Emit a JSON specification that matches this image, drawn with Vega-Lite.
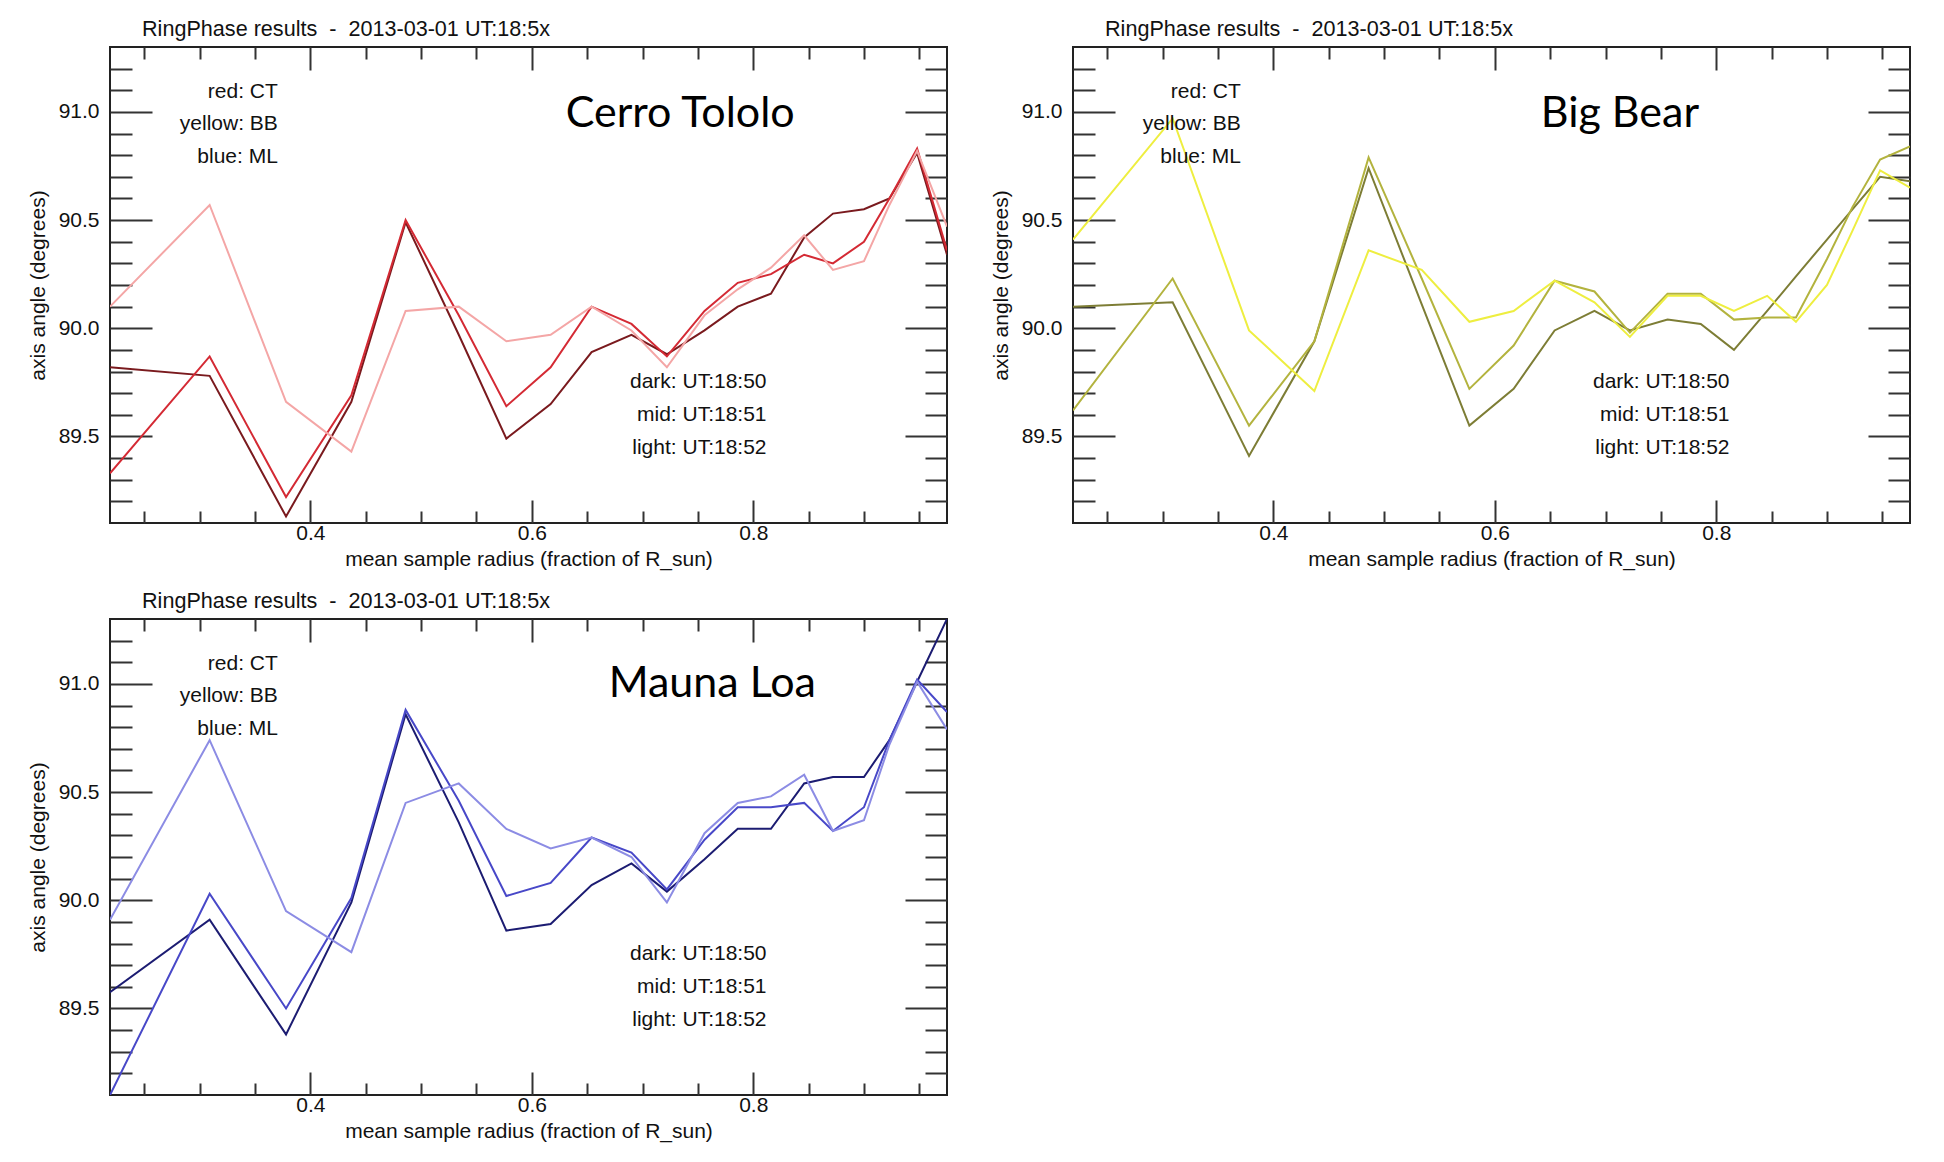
{
  "$schema": "https://vega.github.io/schema/vega-lite/v6.json",
  "background": "white",
  "padding": {"left": 26, "top": 18, "right": 10, "bottom": 10},
  "config": {
    "font": "Liberation Sans",
    "view": {"stroke": "#222", "strokeWidth": 2},
    "axis": {
      "domain": false, "grid": false,
      "tickColor": "#333", "tickWidth": 2,
      "labelFont": "Liberation Sans", "labelFontSize": 21, "labelColor": "#111",
      "labelFlush": false, "labelOverlap": false, "labelBound": false,
      "titleFont": "Liberation Sans", "titleFontSize": 21, "titleFontWeight": "normal", "titleColor": "#111"
    },
    "title": {
      "anchor": "start", "frame": "group", "dx": 32, "offset": 5,
      "font": "Liberation Sans", "fontSize": 21.6, "fontWeight": "normal", "color": "#111"
    }
  },
  "datasets": {
    "rings": [
      {"site": "CT", "time": "18:50", "radius": 0.219, "angle": 89.82},
      {"site": "CT", "time": "18:50", "radius": 0.309, "angle": 89.78},
      {"site": "CT", "time": "18:50", "radius": 0.378, "angle": 89.13},
      {"site": "CT", "time": "18:50", "radius": 0.437, "angle": 89.66},
      {"site": "CT", "time": "18:50", "radius": 0.486, "angle": 90.49},
      {"site": "CT", "time": "18:50", "radius": 0.534, "angle": 89.97},
      {"site": "CT", "time": "18:50", "radius": 0.577, "angle": 89.49},
      {"site": "CT", "time": "18:50", "radius": 0.617, "angle": 89.65},
      {"site": "CT", "time": "18:50", "radius": 0.654, "angle": 89.89},
      {"site": "CT", "time": "18:50", "radius": 0.690, "angle": 89.97},
      {"site": "CT", "time": "18:50", "radius": 0.722, "angle": 89.88},
      {"site": "CT", "time": "18:50", "radius": 0.756, "angle": 89.99},
      {"site": "CT", "time": "18:50", "radius": 0.786, "angle": 90.10},
      {"site": "CT", "time": "18:50", "radius": 0.816, "angle": 90.16},
      {"site": "CT", "time": "18:50", "radius": 0.846, "angle": 90.42},
      {"site": "CT", "time": "18:50", "radius": 0.872, "angle": 90.53},
      {"site": "CT", "time": "18:50", "radius": 0.900, "angle": 90.55},
      {"site": "CT", "time": "18:50", "radius": 0.923, "angle": 90.60},
      {"site": "CT", "time": "18:50", "radius": 0.948, "angle": 90.81},
      {"site": "CT", "time": "18:50", "radius": 0.975, "angle": 90.34},
      {"site": "CT", "time": "18:51", "radius": 0.219, "angle": 89.33},
      {"site": "CT", "time": "18:51", "radius": 0.309, "angle": 89.87},
      {"site": "CT", "time": "18:51", "radius": 0.378, "angle": 89.22},
      {"site": "CT", "time": "18:51", "radius": 0.437, "angle": 89.69},
      {"site": "CT", "time": "18:51", "radius": 0.486, "angle": 90.50},
      {"site": "CT", "time": "18:51", "radius": 0.534, "angle": 90.06},
      {"site": "CT", "time": "18:51", "radius": 0.577, "angle": 89.64},
      {"site": "CT", "time": "18:51", "radius": 0.617, "angle": 89.82},
      {"site": "CT", "time": "18:51", "radius": 0.654, "angle": 90.10},
      {"site": "CT", "time": "18:51", "radius": 0.690, "angle": 90.02},
      {"site": "CT", "time": "18:51", "radius": 0.722, "angle": 89.87},
      {"site": "CT", "time": "18:51", "radius": 0.756, "angle": 90.08},
      {"site": "CT", "time": "18:51", "radius": 0.786, "angle": 90.21},
      {"site": "CT", "time": "18:51", "radius": 0.816, "angle": 90.25},
      {"site": "CT", "time": "18:51", "radius": 0.846, "angle": 90.34},
      {"site": "CT", "time": "18:51", "radius": 0.872, "angle": 90.30},
      {"site": "CT", "time": "18:51", "radius": 0.900, "angle": 90.40},
      {"site": "CT", "time": "18:51", "radius": 0.923, "angle": 90.60},
      {"site": "CT", "time": "18:51", "radius": 0.948, "angle": 90.83},
      {"site": "CT", "time": "18:51", "radius": 0.975, "angle": 90.36},
      {"site": "CT", "time": "18:52", "radius": 0.219, "angle": 90.10},
      {"site": "CT", "time": "18:52", "radius": 0.309, "angle": 90.57},
      {"site": "CT", "time": "18:52", "radius": 0.378, "angle": 89.66},
      {"site": "CT", "time": "18:52", "radius": 0.437, "angle": 89.43},
      {"site": "CT", "time": "18:52", "radius": 0.486, "angle": 90.08},
      {"site": "CT", "time": "18:52", "radius": 0.534, "angle": 90.10},
      {"site": "CT", "time": "18:52", "radius": 0.577, "angle": 89.94},
      {"site": "CT", "time": "18:52", "radius": 0.617, "angle": 89.97},
      {"site": "CT", "time": "18:52", "radius": 0.654, "angle": 90.10},
      {"site": "CT", "time": "18:52", "radius": 0.690, "angle": 89.99},
      {"site": "CT", "time": "18:52", "radius": 0.722, "angle": 89.82},
      {"site": "CT", "time": "18:52", "radius": 0.756, "angle": 90.06},
      {"site": "CT", "time": "18:52", "radius": 0.786, "angle": 90.18},
      {"site": "CT", "time": "18:52", "radius": 0.816, "angle": 90.28},
      {"site": "CT", "time": "18:52", "radius": 0.846, "angle": 90.43},
      {"site": "CT", "time": "18:52", "radius": 0.872, "angle": 90.27},
      {"site": "CT", "time": "18:52", "radius": 0.900, "angle": 90.31},
      {"site": "CT", "time": "18:52", "radius": 0.923, "angle": 90.57},
      {"site": "CT", "time": "18:52", "radius": 0.948, "angle": 90.82},
      {"site": "CT", "time": "18:52", "radius": 0.975, "angle": 90.47},
      {"site": "BB", "time": "18:50", "radius": 0.219, "angle": 90.10},
      {"site": "BB", "time": "18:50", "radius": 0.309, "angle": 90.12},
      {"site": "BB", "time": "18:50", "radius": 0.378, "angle": 89.41},
      {"site": "BB", "time": "18:50", "radius": 0.437, "angle": 89.94},
      {"site": "BB", "time": "18:50", "radius": 0.486, "angle": 90.74},
      {"site": "BB", "time": "18:50", "radius": 0.534, "angle": 90.11},
      {"site": "BB", "time": "18:50", "radius": 0.577, "angle": 89.55},
      {"site": "BB", "time": "18:50", "radius": 0.617, "angle": 89.72},
      {"site": "BB", "time": "18:50", "radius": 0.654, "angle": 89.99},
      {"site": "BB", "time": "18:50", "radius": 0.690, "angle": 90.08},
      {"site": "BB", "time": "18:50", "radius": 0.722, "angle": 89.99},
      {"site": "BB", "time": "18:50", "radius": 0.756, "angle": 90.04},
      {"site": "BB", "time": "18:50", "radius": 0.786, "angle": 90.02},
      {"site": "BB", "time": "18:50", "radius": 0.816, "angle": 89.90},
      {"site": "BB", "time": "18:50", "radius": 0.846, "angle": 90.08},
      {"site": "BB", "time": "18:50", "radius": 0.872, "angle": 90.24},
      {"site": "BB", "time": "18:50", "radius": 0.900, "angle": 90.41},
      {"site": "BB", "time": "18:50", "radius": 0.923, "angle": 90.55},
      {"site": "BB", "time": "18:50", "radius": 0.948, "angle": 90.70},
      {"site": "BB", "time": "18:50", "radius": 0.975, "angle": 90.68},
      {"site": "BB", "time": "18:51", "radius": 0.219, "angle": 89.62},
      {"site": "BB", "time": "18:51", "radius": 0.309, "angle": 90.23},
      {"site": "BB", "time": "18:51", "radius": 0.378, "angle": 89.55},
      {"site": "BB", "time": "18:51", "radius": 0.437, "angle": 89.94},
      {"site": "BB", "time": "18:51", "radius": 0.486, "angle": 90.79},
      {"site": "BB", "time": "18:51", "radius": 0.534, "angle": 90.23},
      {"site": "BB", "time": "18:51", "radius": 0.577, "angle": 89.72},
      {"site": "BB", "time": "18:51", "radius": 0.617, "angle": 89.92},
      {"site": "BB", "time": "18:51", "radius": 0.654, "angle": 90.22},
      {"site": "BB", "time": "18:51", "radius": 0.690, "angle": 90.17},
      {"site": "BB", "time": "18:51", "radius": 0.722, "angle": 89.98},
      {"site": "BB", "time": "18:51", "radius": 0.756, "angle": 90.16},
      {"site": "BB", "time": "18:51", "radius": 0.786, "angle": 90.16},
      {"site": "BB", "time": "18:51", "radius": 0.816, "angle": 90.04},
      {"site": "BB", "time": "18:51", "radius": 0.846, "angle": 90.05},
      {"site": "BB", "time": "18:51", "radius": 0.872, "angle": 90.05},
      {"site": "BB", "time": "18:51", "radius": 0.900, "angle": 90.32},
      {"site": "BB", "time": "18:51", "radius": 0.923, "angle": 90.56},
      {"site": "BB", "time": "18:51", "radius": 0.948, "angle": 90.78},
      {"site": "BB", "time": "18:51", "radius": 0.975, "angle": 90.84},
      {"site": "BB", "time": "18:52", "radius": 0.219, "angle": 90.41},
      {"site": "BB", "time": "18:52", "radius": 0.309, "angle": 90.97},
      {"site": "BB", "time": "18:52", "radius": 0.378, "angle": 89.99},
      {"site": "BB", "time": "18:52", "radius": 0.437, "angle": 89.71},
      {"site": "BB", "time": "18:52", "radius": 0.486, "angle": 90.36},
      {"site": "BB", "time": "18:52", "radius": 0.534, "angle": 90.27},
      {"site": "BB", "time": "18:52", "radius": 0.577, "angle": 90.03},
      {"site": "BB", "time": "18:52", "radius": 0.617, "angle": 90.08},
      {"site": "BB", "time": "18:52", "radius": 0.654, "angle": 90.22},
      {"site": "BB", "time": "18:52", "radius": 0.690, "angle": 90.12},
      {"site": "BB", "time": "18:52", "radius": 0.722, "angle": 89.96},
      {"site": "BB", "time": "18:52", "radius": 0.756, "angle": 90.15},
      {"site": "BB", "time": "18:52", "radius": 0.786, "angle": 90.15},
      {"site": "BB", "time": "18:52", "radius": 0.816, "angle": 90.08},
      {"site": "BB", "time": "18:52", "radius": 0.846, "angle": 90.15},
      {"site": "BB", "time": "18:52", "radius": 0.872, "angle": 90.03},
      {"site": "BB", "time": "18:52", "radius": 0.900, "angle": 90.20},
      {"site": "BB", "time": "18:52", "radius": 0.923, "angle": 90.45},
      {"site": "BB", "time": "18:52", "radius": 0.948, "angle": 90.73},
      {"site": "BB", "time": "18:52", "radius": 0.975, "angle": 90.65},
      {"site": "ML", "time": "18:50", "radius": 0.219, "angle": 89.575},
      {"site": "ML", "time": "18:50", "radius": 0.309, "angle": 89.91},
      {"site": "ML", "time": "18:50", "radius": 0.378, "angle": 89.38},
      {"site": "ML", "time": "18:50", "radius": 0.437, "angle": 89.99},
      {"site": "ML", "time": "18:50", "radius": 0.486, "angle": 90.86},
      {"site": "ML", "time": "18:50", "radius": 0.534, "angle": 90.36},
      {"site": "ML", "time": "18:50", "radius": 0.577, "angle": 89.86},
      {"site": "ML", "time": "18:50", "radius": 0.617, "angle": 89.89},
      {"site": "ML", "time": "18:50", "radius": 0.654, "angle": 90.07},
      {"site": "ML", "time": "18:50", "radius": 0.690, "angle": 90.17},
      {"site": "ML", "time": "18:50", "radius": 0.722, "angle": 90.04},
      {"site": "ML", "time": "18:50", "radius": 0.756, "angle": 90.19},
      {"site": "ML", "time": "18:50", "radius": 0.786, "angle": 90.33},
      {"site": "ML", "time": "18:50", "radius": 0.816, "angle": 90.33},
      {"site": "ML", "time": "18:50", "radius": 0.846, "angle": 90.54},
      {"site": "ML", "time": "18:50", "radius": 0.872, "angle": 90.57},
      {"site": "ML", "time": "18:50", "radius": 0.900, "angle": 90.57},
      {"site": "ML", "time": "18:50", "radius": 0.923, "angle": 90.74},
      {"site": "ML", "time": "18:50", "radius": 0.948, "angle": 91.01},
      {"site": "ML", "time": "18:50", "radius": 0.975, "angle": 91.30},
      {"site": "ML", "time": "18:51", "radius": 0.219, "angle": 89.10},
      {"site": "ML", "time": "18:51", "radius": 0.309, "angle": 90.03},
      {"site": "ML", "time": "18:51", "radius": 0.378, "angle": 89.50},
      {"site": "ML", "time": "18:51", "radius": 0.437, "angle": 90.01},
      {"site": "ML", "time": "18:51", "radius": 0.486, "angle": 90.88},
      {"site": "ML", "time": "18:51", "radius": 0.534, "angle": 90.46},
      {"site": "ML", "time": "18:51", "radius": 0.577, "angle": 90.02},
      {"site": "ML", "time": "18:51", "radius": 0.617, "angle": 90.08},
      {"site": "ML", "time": "18:51", "radius": 0.654, "angle": 90.29},
      {"site": "ML", "time": "18:51", "radius": 0.690, "angle": 90.22},
      {"site": "ML", "time": "18:51", "radius": 0.722, "angle": 90.05},
      {"site": "ML", "time": "18:51", "radius": 0.756, "angle": 90.28},
      {"site": "ML", "time": "18:51", "radius": 0.786, "angle": 90.43},
      {"site": "ML", "time": "18:51", "radius": 0.816, "angle": 90.43},
      {"site": "ML", "time": "18:51", "radius": 0.846, "angle": 90.45},
      {"site": "ML", "time": "18:51", "radius": 0.872, "angle": 90.32},
      {"site": "ML", "time": "18:51", "radius": 0.900, "angle": 90.43},
      {"site": "ML", "time": "18:51", "radius": 0.923, "angle": 90.74},
      {"site": "ML", "time": "18:51", "radius": 0.948, "angle": 91.02},
      {"site": "ML", "time": "18:51", "radius": 0.975, "angle": 90.87},
      {"site": "ML", "time": "18:52", "radius": 0.219, "angle": 89.91},
      {"site": "ML", "time": "18:52", "radius": 0.309, "angle": 90.74},
      {"site": "ML", "time": "18:52", "radius": 0.378, "angle": 89.95},
      {"site": "ML", "time": "18:52", "radius": 0.437, "angle": 89.76},
      {"site": "ML", "time": "18:52", "radius": 0.486, "angle": 90.45},
      {"site": "ML", "time": "18:52", "radius": 0.534, "angle": 90.54},
      {"site": "ML", "time": "18:52", "radius": 0.577, "angle": 90.33},
      {"site": "ML", "time": "18:52", "radius": 0.617, "angle": 90.24},
      {"site": "ML", "time": "18:52", "radius": 0.654, "angle": 90.29},
      {"site": "ML", "time": "18:52", "radius": 0.690, "angle": 90.20},
      {"site": "ML", "time": "18:52", "radius": 0.722, "angle": 89.99},
      {"site": "ML", "time": "18:52", "radius": 0.756, "angle": 90.31},
      {"site": "ML", "time": "18:52", "radius": 0.786, "angle": 90.45},
      {"site": "ML", "time": "18:52", "radius": 0.816, "angle": 90.48},
      {"site": "ML", "time": "18:52", "radius": 0.846, "angle": 90.58},
      {"site": "ML", "time": "18:52", "radius": 0.872, "angle": 90.32},
      {"site": "ML", "time": "18:52", "radius": 0.900, "angle": 90.37},
      {"site": "ML", "time": "18:52", "radius": 0.923, "angle": 90.72},
      {"site": "ML", "time": "18:52", "radius": 0.948, "angle": 91.01},
      {"site": "ML", "time": "18:52", "radius": 0.975, "angle": 90.79}
    ],
    "notes": [
      {"radius": 0.3706, "angle": 91.092, "label": "red: CT"},
      {"radius": 0.3706, "angle": 90.945, "label": "yellow: BB"},
      {"radius": 0.3706, "angle": 90.793, "label": "blue: ML"},
      {"radius": 0.812, "angle": 89.753, "label": "dark: UT:18:50"},
      {"radius": 0.812, "angle": 89.599, "label": "mid: UT:18:51"},
      {"radius": 0.812, "angle": 89.445, "label": "light: UT:18:52"}
    ],
    "sites": [
      {"site": "CT", "radius": 0.734, "angle": 90.99, "label": "Cerro Tololo"},
      {"site": "BB", "radius": 0.713, "angle": 90.99, "label": "Big Bear"},
      {"site": "ML", "radius": 0.763, "angle": 91.0, "label": "Mauna Loa"}
    ]
  },
  "columns": 2,
  "spacing": {"column": 40, "row": 20},
  "resolve": {"scale": {"color": "independent"}},
  "concat": [
    {
      "width": 837, "height": 476,
      "title": "RingPhase results \u00a0-\u00a0 2013-03-01 UT:18:5x",
      "layer": [
        {
          "data": {"name": "rings"},
          "transform": [{"filter": "datum.site === 'CT'"}],
          "mark": {"type": "line", "strokeWidth": 2, "clip": true},
          "encoding": {
            "x": {"field": "radius", "type": "quantitative", "scale": {"domain": [0.219, 0.975], "nice": false, "zero": false},
              "axis": {"orient": "bottom", "values": [0.25, 0.3, 0.35, 0.4, 0.45, 0.5, 0.55, 0.6, 0.65, 0.7, 0.75, 0.8, 0.85, 0.9, 0.95],
                "tickSize": {"condition": {"test": "abs(datum.value*5 - round(datum.value*5)) < 0.01", "value": -23}, "value": -12},
                "labelExpr": "abs(datum.value*5 - round(datum.value*5)) < 0.01 ? format(datum.value, '.1f') : ''",
                "labelPadding": 22, "title": "mean sample radius (fraction of R_sun)", "titlePadding": -6}},
            "y": {"field": "angle", "type": "quantitative", "scale": {"domain": [89.1, 91.3], "nice": false, "zero": false},
              "axis": {"orient": "left", "values": [89.2, 89.3, 89.4, 89.5, 89.6, 89.7, 89.8, 89.9, 90.0, 90.1, 90.2, 90.3, 90.4, 90.5, 90.6, 90.7, 90.8, 90.9, 91.0, 91.1, 91.2],
                "tickSize": {"condition": {"test": "abs(datum.value*2 - round(datum.value*2)) < 0.01", "value": -42}, "value": -22},
                "labelExpr": "abs(datum.value*2 - round(datum.value*2)) < 0.01 ? format(datum.value, '.1f') : ''",
                "labelPadding": 53, "title": "axis angle (degrees)", "titlePadding": 10}},
            "color": {"field": "time", "type": "nominal", "legend": null,
              "scale": {"domain": ["18:50", "18:51", "18:52"], "range": ["#7a1a1e", "#d42a34", "#f4a6a6"]}}
          }
        },
        {
          "data": {"name": "notes"},
          "mark": {"type": "text", "align": "right", "baseline": "middle", "fontSize": 21, "color": "#111"},
          "encoding": {
            "x": {"field": "radius", "type": "quantitative", "scale": {"domain": [0.219, 0.975], "nice": false, "zero": false},
              "axis": {"orient": "top", "values": [0.25, 0.3, 0.35, 0.4, 0.45, 0.5, 0.55, 0.6, 0.65, 0.7, 0.75, 0.8, 0.85, 0.9, 0.95],
                "tickSize": {"condition": {"test": "abs(datum.value*5 - round(datum.value*5)) < 0.01", "value": -23}, "value": -12},
                "labels": false, "title": null}},
            "y": {"field": "angle", "type": "quantitative", "scale": {"domain": [89.1, 91.3], "nice": false, "zero": false},
              "axis": {"orient": "right", "values": [89.2, 89.3, 89.4, 89.5, 89.6, 89.7, 89.8, 89.9, 90.0, 90.1, 90.2, 90.3, 90.4, 90.5, 90.6, 90.7, 90.8, 90.9, 91.0, 91.1, 91.2],
                "tickSize": {"condition": {"test": "abs(datum.value*2 - round(datum.value*2)) < 0.01", "value": -42}, "value": -22},
                "labels": false, "title": null}},
            "text": {"field": "label"}
          }
        },
        {
          "data": {"name": "sites"},
          "transform": [{"filter": "datum.site === 'CT'"}],
          "mark": {"type": "text", "align": "center", "baseline": "middle", "font": "Lato", "fontSize": 43, "color": "#000"},
          "encoding": {
            "x": {"field": "radius", "type": "quantitative", "axis": null},
            "y": {"field": "angle", "type": "quantitative", "axis": null},
            "text": {"field": "label"}
          }
        }
      ],
      "resolve": {"axis": {"x": "independent", "y": "independent"}}
    },
    {
      "width": 837, "height": 476,
      "title": "RingPhase results \u00a0-\u00a0 2013-03-01 UT:18:5x",
      "layer": [
        {
          "data": {"name": "rings"},
          "transform": [{"filter": "datum.site === 'BB'"}],
          "mark": {"type": "line", "strokeWidth": 2, "clip": true},
          "encoding": {
            "x": {"field": "radius", "type": "quantitative", "scale": {"domain": [0.219, 0.975], "nice": false, "zero": false},
              "axis": {"orient": "bottom", "values": [0.25, 0.3, 0.35, 0.4, 0.45, 0.5, 0.55, 0.6, 0.65, 0.7, 0.75, 0.8, 0.85, 0.9, 0.95],
                "tickSize": {"condition": {"test": "abs(datum.value*5 - round(datum.value*5)) < 0.01", "value": -23}, "value": -12},
                "labelExpr": "abs(datum.value*5 - round(datum.value*5)) < 0.01 ? format(datum.value, '.1f') : ''",
                "labelPadding": 22, "title": "mean sample radius (fraction of R_sun)", "titlePadding": -6}},
            "y": {"field": "angle", "type": "quantitative", "scale": {"domain": [89.1, 91.3], "nice": false, "zero": false},
              "axis": {"orient": "left", "values": [89.2, 89.3, 89.4, 89.5, 89.6, 89.7, 89.8, 89.9, 90.0, 90.1, 90.2, 90.3, 90.4, 90.5, 90.6, 90.7, 90.8, 90.9, 91.0, 91.1, 91.2],
                "tickSize": {"condition": {"test": "abs(datum.value*2 - round(datum.value*2)) < 0.01", "value": -42}, "value": -22},
                "labelExpr": "abs(datum.value*2 - round(datum.value*2)) < 0.01 ? format(datum.value, '.1f') : ''",
                "labelPadding": 53, "title": "axis angle (degrees)", "titlePadding": 10}},
            "color": {"field": "time", "type": "nominal", "legend": null,
              "scale": {"domain": ["18:50", "18:51", "18:52"], "range": ["#7d7d35", "#b3b33e", "#eeee40"]}}
          }
        },
        {
          "data": {"name": "notes"},
          "mark": {"type": "text", "align": "right", "baseline": "middle", "fontSize": 21, "color": "#111"},
          "encoding": {
            "x": {"field": "radius", "type": "quantitative", "scale": {"domain": [0.219, 0.975], "nice": false, "zero": false},
              "axis": {"orient": "top", "values": [0.25, 0.3, 0.35, 0.4, 0.45, 0.5, 0.55, 0.6, 0.65, 0.7, 0.75, 0.8, 0.85, 0.9, 0.95],
                "tickSize": {"condition": {"test": "abs(datum.value*5 - round(datum.value*5)) < 0.01", "value": -23}, "value": -12},
                "labels": false, "title": null}},
            "y": {"field": "angle", "type": "quantitative", "scale": {"domain": [89.1, 91.3], "nice": false, "zero": false},
              "axis": {"orient": "right", "values": [89.2, 89.3, 89.4, 89.5, 89.6, 89.7, 89.8, 89.9, 90.0, 90.1, 90.2, 90.3, 90.4, 90.5, 90.6, 90.7, 90.8, 90.9, 91.0, 91.1, 91.2],
                "tickSize": {"condition": {"test": "abs(datum.value*2 - round(datum.value*2)) < 0.01", "value": -42}, "value": -22},
                "labels": false, "title": null}},
            "text": {"field": "label"}
          }
        },
        {
          "data": {"name": "sites"},
          "transform": [{"filter": "datum.site === 'BB'"}],
          "mark": {"type": "text", "align": "center", "baseline": "middle", "font": "Lato", "fontSize": 43, "color": "#000"},
          "encoding": {
            "x": {"field": "radius", "type": "quantitative", "axis": null},
            "y": {"field": "angle", "type": "quantitative", "axis": null},
            "text": {"field": "label"}
          }
        }
      ],
      "resolve": {"axis": {"x": "independent", "y": "independent"}}
    },
    {
      "width": 837, "height": 476,
      "title": "RingPhase results \u00a0-\u00a0 2013-03-01 UT:18:5x",
      "layer": [
        {
          "data": {"name": "rings"},
          "transform": [{"filter": "datum.site === 'ML'"}],
          "mark": {"type": "line", "strokeWidth": 2, "clip": true},
          "encoding": {
            "x": {"field": "radius", "type": "quantitative", "scale": {"domain": [0.219, 0.975], "nice": false, "zero": false},
              "axis": {"orient": "bottom", "values": [0.25, 0.3, 0.35, 0.4, 0.45, 0.5, 0.55, 0.6, 0.65, 0.7, 0.75, 0.8, 0.85, 0.9, 0.95],
                "tickSize": {"condition": {"test": "abs(datum.value*5 - round(datum.value*5)) < 0.01", "value": -23}, "value": -12},
                "labelExpr": "abs(datum.value*5 - round(datum.value*5)) < 0.01 ? format(datum.value, '.1f') : ''",
                "labelPadding": 22, "title": "mean sample radius (fraction of R_sun)", "titlePadding": -6}},
            "y": {"field": "angle", "type": "quantitative", "scale": {"domain": [89.1, 91.3], "nice": false, "zero": false},
              "axis": {"orient": "left", "values": [89.2, 89.3, 89.4, 89.5, 89.6, 89.7, 89.8, 89.9, 90.0, 90.1, 90.2, 90.3, 90.4, 90.5, 90.6, 90.7, 90.8, 90.9, 91.0, 91.1, 91.2],
                "tickSize": {"condition": {"test": "abs(datum.value*2 - round(datum.value*2)) < 0.01", "value": -42}, "value": -22},
                "labelExpr": "abs(datum.value*2 - round(datum.value*2)) < 0.01 ? format(datum.value, '.1f') : ''",
                "labelPadding": 53, "title": "axis angle (degrees)", "titlePadding": 10}},
            "color": {"field": "time", "type": "nominal", "legend": null,
              "scale": {"domain": ["18:50", "18:51", "18:52"], "range": ["#1c1c72", "#4848c8", "#8c8ce4"]}}
          }
        },
        {
          "data": {"name": "notes"},
          "mark": {"type": "text", "align": "right", "baseline": "middle", "fontSize": 21, "color": "#111"},
          "encoding": {
            "x": {"field": "radius", "type": "quantitative", "scale": {"domain": [0.219, 0.975], "nice": false, "zero": false},
              "axis": {"orient": "top", "values": [0.25, 0.3, 0.35, 0.4, 0.45, 0.5, 0.55, 0.6, 0.65, 0.7, 0.75, 0.8, 0.85, 0.9, 0.95],
                "tickSize": {"condition": {"test": "abs(datum.value*5 - round(datum.value*5)) < 0.01", "value": -23}, "value": -12},
                "labels": false, "title": null}},
            "y": {"field": "angle", "type": "quantitative", "scale": {"domain": [89.1, 91.3], "nice": false, "zero": false},
              "axis": {"orient": "right", "values": [89.2, 89.3, 89.4, 89.5, 89.6, 89.7, 89.8, 89.9, 90.0, 90.1, 90.2, 90.3, 90.4, 90.5, 90.6, 90.7, 90.8, 90.9, 91.0, 91.1, 91.2],
                "tickSize": {"condition": {"test": "abs(datum.value*2 - round(datum.value*2)) < 0.01", "value": -42}, "value": -22},
                "labels": false, "title": null}},
            "text": {"field": "label"}
          }
        },
        {
          "data": {"name": "sites"},
          "transform": [{"filter": "datum.site === 'ML'"}],
          "mark": {"type": "text", "align": "center", "baseline": "middle", "font": "Lato", "fontSize": 43, "color": "#000"},
          "encoding": {
            "x": {"field": "radius", "type": "quantitative", "axis": null},
            "y": {"field": "angle", "type": "quantitative", "axis": null},
            "text": {"field": "label"}
          }
        }
      ],
      "resolve": {"axis": {"x": "independent", "y": "independent"}}
    }
  ]
}
